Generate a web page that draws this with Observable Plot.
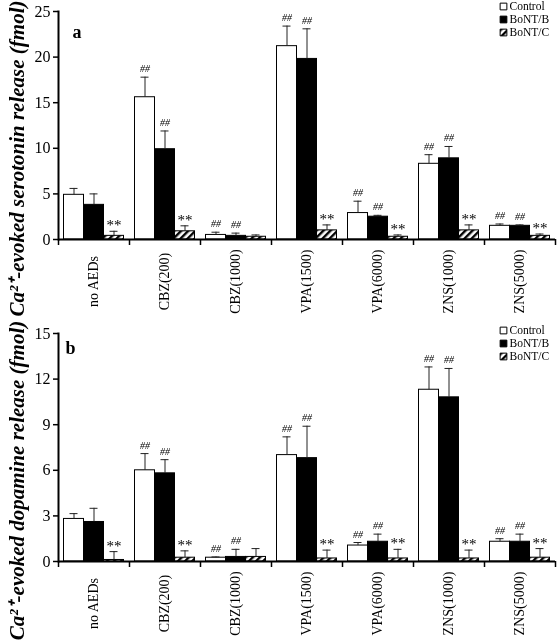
<!DOCTYPE html>
<html>
<head>
<meta charset="utf-8">
<script src="https://cdn.jsdelivr.net/npm/d3@7"></script>
<script src="https://cdn.jsdelivr.net/npm/@observablehq/plot@0.6"></script>
<style>
  html, body { margin: 0; padding: 0; background: #fff; }
  #chart svg { display: block; }
</style>
</head>
<body>
<svg width="0" height="0" style="position:absolute">
  <defs>
    <pattern id="hatch" width="5" height="5" patternUnits="userSpaceOnUse" patternTransform="rotate(45)">
      <rect width="5" height="5" fill="white"></rect>
      <rect width="2.4" height="5" fill="black"></rect>
    </pattern>
  </defs>
</svg>
<div id="chart"></div>
<script>
// ---- data ----
const groups = ["no AEDs", "CBZ(200)", "CBZ(1000)", "VPA(1500)", "VPA(6000)", "ZNS(1000)", "ZNS(5000)"];
const series = ["Control", "BoNT/B", "BoNT/C"];

// panel a: serotonin (fmol)
const serotoninControl    = [4.9, 15.6, 0.5, 21.2, 2.9, 8.3, 1.5];
const serotoninControlErr = [0.7, 2.2, 0.3, 2.2, 1.3, 1.0, 0.2];
const serotoninB          = [3.8, 9.9, 0.4, 19.8, 2.5, 8.9, 1.5];
const serotoninBErr       = [1.2, 2.0, 0.3, 3.3, 0.15, 1.3, 0.1];
const serotoninC          = [0.4, 0.9, 0.3, 1.0, 0.3, 1.0, 0.4];
const serotoninCErr       = [0.5, 0.6, 0.2, 0.6, 0.2, 0.6, 0.2];

// panel b: dopamine (fmol)
const dopamineControl    = [2.8, 6.0, 0.25, 7.0, 1.05, 11.3, 1.3];
const dopamineControlErr = [0.35, 1.1, 0.05, 1.2, 0.2, 1.5, 0.2];
const dopamineB          = [2.6, 5.8, 0.3, 6.8, 1.3, 10.8, 1.3];
const dopamineBErr       = [0.9, 0.9, 0.5, 2.1, 0.5, 1.9, 0.5];
const dopamineC          = [0.1, 0.25, 0.3, 0.2, 0.2, 0.2, 0.25];
const dopamineCErr       = [0.55, 0.45, 0.55, 0.55, 0.6, 0.55, 0.6];

// significance marks
const controlSig = ["", "##", "##", "##", "##", "##", "##"];
const bSig       = ["", "##", "##", "##", "##", "##", "##"];
const cSig       = ["**", "**", "", "**", "**", "**", "**"];

const serotoninTicks = [0, 5, 10, 15, 20, 25];
const dopamineTicks = [0, 3, 6, 9, 12, 15];

const serotoninTitle = "Ca²⁺-evoked serotonin release (fmol)";
const dopamineTitle = "Ca²⁺-evoked dopamine release (fmol)";

// ---- build ----
function rows(vals, errs, sigs) {
  const out = [];
  groups.forEach((g, i) => {
    series.forEach((s, j) => {
      out.push({group: g, series: s, value: vals[j][i], err: errs[j][i], sig: sigs[j][i]});
    });
  });
  return out;
}

const W = 557, H = 320, ML = 58, MR = 2;
const facetW = (W - ML - MR) / groups.length;
const FONT = "Liberation Serif, Times New Roman, serif";

function panel({data, ticks, title, letter, mt, mb, letterDx, letterDy, legendDys}) {
  const top = d => d.value + d.err;
  const marks = [
    Plot.barY(data, {fx: "group", x: "series", y: "value", fill: "series", stroke: "black", strokeWidth: 1}),
    Plot.ruleX(data, {fx: "group", x: "series", y1: "value", y2: top, stroke: "#222", strokeWidth: 1}),
    Plot.tickY(data, {fx: "group", x: "series", y: top, stroke: "#222", strokeWidth: 1, insetLeft: 6, insetRight: 6}),
    Plot.text(data.filter(d => d.sig === "##"), {fx: "group", x: "series", y: top, text: "sig", dy: -5, lineAnchor: "bottom", fontSize: 10, fontStyle: "italic", fontFamily: FONT, fill: "black", mixBlendMode: "multiply"}),
    Plot.text(data.filter(d => d.sig === "**"), {fx: "group", x: "series", y: top, text: "sig", dy: -1, lineAnchor: "bottom", fontSize: 15, fontFamily: FONT, letterSpacing: 1, fill: "black", mixBlendMode: "multiply"}),
    Plot.ruleY([0], {strokeWidth: 2}),
    Plot.frame({anchor: "left", facetAnchor: "left", strokeWidth: 2}),
    Plot.axisY({ticks, tickSize: 5, tickPadding: 3, fontSize: 16, fontFamily: FONT, label: null, strokeWidth: 1.5}),
    Plot.axisFx({anchor: "bottom", tickSize: 6, tickFormat: () => "", dx: -facetW / 2, strokeWidth: 1.5, label: null}),
    Plot.axisFx({anchor: "bottom", ticks: [groups[groups.length - 1]], tickSize: 6, tickFormat: () => "", dx: facetW / 2, strokeWidth: 1.5, label: null}),
    Plot.axisFx({anchor: "bottom", tickSize: 0, tickPadding: 42, tickRotate: -90, textAnchor: "middle", lineAnchor: "middle", fontSize: 14, fontFamily: FONT, letterSpacing: 0.8, label: null}),
    Plot.text([title], {frameAnchor: "left", facetAnchor: "left", rotate: -90, dx: -41, dy: 33, textAnchor: "middle", lineAnchor: "middle", fontSize: 21, fontWeight: "bold", fontStyle: "italic", fontFamily: FONT}),
    Plot.text([letter], {frameAnchor: "top-left", facetAnchor: "left", dx: letterDx, dy: letterDy, textAnchor: "start", lineAnchor: "bottom", fontSize: 18, fontWeight: "bold", fontFamily: FONT})
  ];
  series.forEach((s, i) => {
    marks.push(Plot.dot([s], {frameAnchor: "top-left", facetAnchor: "right", symbol: "square", r: 3.8, fill: d => d, stroke: "black", strokeWidth: 1, dx: 19, dy: legendDys[i]}));
    marks.push(Plot.text([s], {frameAnchor: "top-left", facetAnchor: "right", text: d => d, dx: 25, dy: legendDys[i], textAnchor: "start", lineAnchor: "middle", fontSize: 11.5, fontFamily: FONT, letterSpacing: 1.2}));
  });
  return Plot.plot({
    width: W, height: H,
    marginLeft: ML, marginRight: MR, marginTop: mt, marginBottom: mb,
    style: {fontFamily: FONT, color: "black", background: "white"},
    fx: {domain: groups, padding: 0, round: false, label: null, axis: null},
    x: {domain: series, paddingInner: 0, paddingOuter: 0.275, round: false, axis: null},
    y: {domain: [ticks[0], ticks[ticks.length - 1]], axis: null},
    color: {domain: series, range: ["white", "black", "url(#hatch)"]},
    marks
  });
}

const chart = document.getElementById("chart");
chart.append(panel({
  data: rows([serotoninControl, serotoninB, serotoninC], [serotoninControlErr, serotoninBErr, serotoninCErr], [controlSig, bSig, cSig]),
  ticks: serotoninTicks, title: serotoninTitle, letter: "a",
  mt: 11, mb: 81, letterDx: 14, letterDy: 26, legendDys: [-5, 8, 21]
}));
chart.append(panel({
  data: rows([dopamineControl, dopamineB, dopamineC], [dopamineControlErr, dopamineBErr, dopamineCErr], [controlSig, bSig, cSig]),
  ticks: dopamineTicks, title: dopamineTitle, letter: "b",
  mt: 13, mb: 79, letterDx: 7, letterDy: 20, legendDys: [-3, 10, 23]
}));
</script>
</body>
</html>
